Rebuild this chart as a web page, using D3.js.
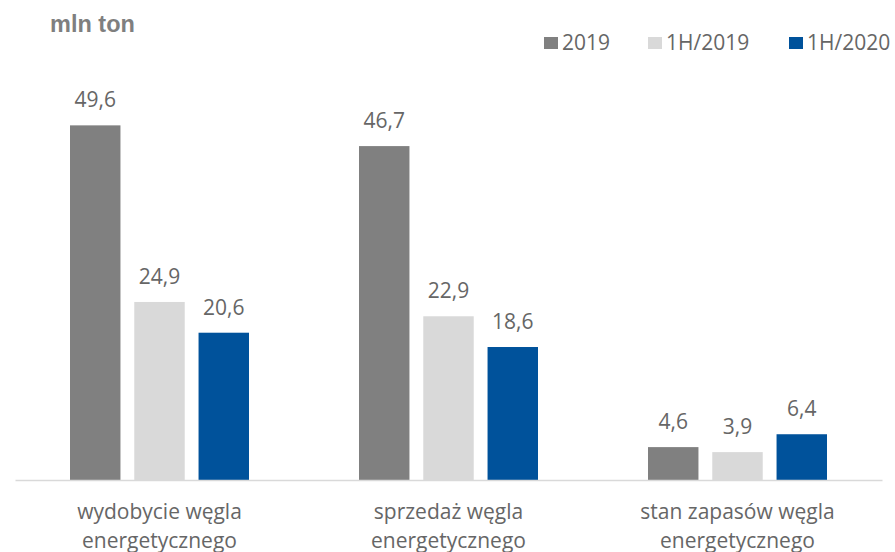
<!DOCTYPE html>
<html>
<head>
<meta charset="utf-8">
<script src="https://cdn.jsdelivr.net/npm/d3@7"></script>
<style>
  body { margin: 0; background: #fff; }
  text { font-family: "Open Sans", sans-serif; fill: #666666; }
</style>
</head>
<body>
<svg id="chart"></svg>
<script>
var categories = [
    ["wydobycie węgla", "energetycznego"],
    ["sprzedaż węgla", "energetycznego"],
    ["stan zapasów węgla", "energetycznego"]
];
var seriesNames = ["2019", "1H/2019", "1H/2020"];
var values2019 = [49.6, 46.7, 4.6];
var values1H2019 = [24.9, 22.9, 3.9];
var values1H2020 = [20.6, 18.6, 6.4];
var seriesColors = ["#808080", "#d9d9d9", "#00529b"];

var width = 895, height = 552;
var baseline = 480;

var svg = d3.select("#chart")
    .attr("width", width)
    .attr("height", height);

var rows = categories.map(function(c, i) {
    return {
        key: i,
        label: c,
        values: [values2019[i], values1H2019[i], values1H2020[i]]
    };
});

var x0 = d3.scaleBand()
    .domain(d3.range(categories.length))
    .range([15, 882]);

var x1 = d3.scaleBand()
    .domain(seriesNames)
    .range([55, 234])
    .paddingInner(0.215);

var y = d3.scaleLinear()
    .domain([0, 60])
    .range([baseline, 51]);

var fmt = function(v) { return d3.format(".1f")(v).replace(".", ","); };

// title
svg.append("text")
    .attr("x", 50)
    .attr("y", 32)
    .style("font-family", "'Liberation Sans', Arial, sans-serif")
    .style("font-weight", "bold")
    .style("font-size", "23.5px")
    .style("fill", "#7f7f7f")
    .text("mln ton");

// legend
var legendX = [544, 648, 789];
var legend = svg.append("g").attr("class", "legend");
seriesNames.forEach(function(name, i) {
    legend.append("rect")
        .attr("x", legendX[i])
        .attr("y", 37)
        .attr("width", 14)
        .attr("height", 12)
        .attr("fill", seriesColors[i]);
    legend.append("text")
        .attr("x", legendX[i] + 18)
        .attr("y", 50)
        .style("font-size", "21px")
        .text(name);
});

// bars
var groups = svg.selectAll("g.group")
    .data(rows)
    .enter().append("g")
    .attr("class", "group")
    .attr("transform", function(d) { return "translate(" + x0(d.key) + ",0)"; });

var cells = groups.selectAll("g.cell")
    .data(function(d) {
        return d.values.map(function(v, i) { return {name: seriesNames[i], value: v, i: i}; });
    })
    .enter().append("g")
    .attr("class", "cell");

cells.append("rect")
    .attr("x", function(d) { return x1(d.name); })
    .attr("y", function(d) { return y(d.value); })
    .attr("width", x1.bandwidth())
    .attr("height", function(d) { return baseline - y(d.value); })
    .attr("fill", function(d) { return seriesColors[d.i]; });

cells.append("text")
    .attr("x", function(d) { return x1(d.name) + x1.bandwidth() / 2; })
    .attr("y", function(d) { return y(d.value) - 18; })
    .attr("text-anchor", "middle")
    .style("font-size", "21px")
    .text(function(d) { return fmt(d.value); });

// x axis
var xAxis = d3.axisBottom(x0).tickSize(0).tickFormat("");
var axisG = svg.append("g")
    .attr("class", "axis axis--x")
    .attr("transform", "translate(0," + baseline + ")")
    .call(xAxis);
axisG.select(".domain").attr("stroke", "#d9d9d9").attr("stroke-width", 1.5);

var labels = svg.append("g").selectAll("text.cat")
    .data(rows)
    .enter().append("text")
    .attr("class", "cat")
    .attr("text-anchor", "middle")
    .attr("x", function(d) { return x0(d.key) + x0.bandwidth() / 2; })
    .attr("y", 519)
    .style("font-size", "21px");

labels.selectAll("tspan")
    .data(function(d) { return d.label; })
    .enter().append("tspan")
    .attr("x", function() { return this.parentNode.getAttribute("x"); })
    .attr("dy", function(d, i) { return i === 0 ? 0 : 29; })
    .text(function(d) { return d; });
</script>
</body>
</html>
